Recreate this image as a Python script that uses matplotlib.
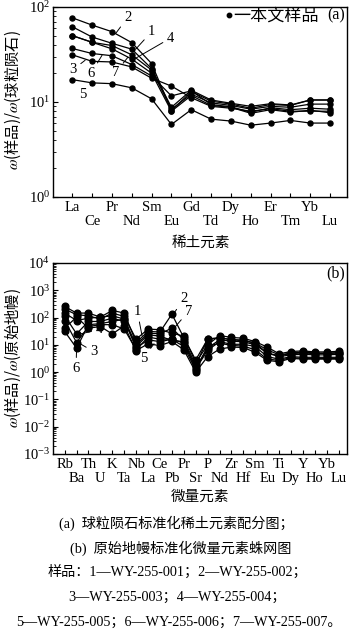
import matplotlib
matplotlib.use('Agg')
import matplotlib.pyplot as plt
from matplotlib.ticker import LogLocator, NullFormatter, FixedLocator, FixedFormatter
from matplotlib.lines import Line2D

plt.rcParams['font.family'] = ['Liberation Serif', 'Noto Sans CJK SC', 'DejaVu Sans']
plt.rcParams['mathtext.fontset'] = 'stix'

# ---------------- data ----------------
ree_elements = ['La', 'Ce', 'Pr', 'Nd', 'Sm', 'Eu', 'Gd', 'Td', 'Dy', 'Ho', 'Er', 'Tm', 'Yb', 'Lu']
ree_s1 = [62.0, 48.3, 41.5, 36.0, 22.5, 8.8, 13.3, 10.5, 9.7, 9.0, 9.6, 9.3, 10.5, 10.5]
ree_s2 = [77.0, 64.5, 55.0, 42.2, 25.4, 8.1, 12.9, 10.2, 9.5, 8.6, 9.4, 9.2, 10.5, 10.5]
ree_s3 = [31.4, 26.8, 26.4, 23.4, 17.8, 14.7, 11.1, 9.0, 8.6, 8.0, 8.5, 8.0, 8.0, 8.0]
ree_s4 = [50.0, 42.5, 39.3, 31.4, 21.7, 8.4, 12.1, 9.8, 9.2, 8.4, 9.0, 8.8, 9.5, 9.5]
ree_s5 = [17.2, 15.9, 15.6, 14.1, 10.8, 5.8, 8.3, 6.6, 6.3, 5.7, 6.0, 6.4, 6.0, 6.0]
ree_s6 = [36.6, 32.4, 30.7, 24.8, 18.8, 11.6, 13.1, 9.4, 8.9, 7.8, 8.7, 8.3, 8.6, 8.4]
ree_s7 = [50.0, 42.5, 36.3, 28.3, 20.1, 8.0, 11.7, 9.2, 8.8, 7.6, 8.3, 7.8, 8.2, 7.7]

trace_elements = ['Rb', 'Ba', 'Th', 'U', 'K', 'Ta', 'Nb', 'La', 'Ce', 'Pb', 'Pr', 'Sr',
                  'P', 'Nd', 'Zr', 'Hf', 'Sm', 'Eu', 'Ti', 'Dy', 'Y', 'Ho', 'Yb', 'Lu']
tr_s1 = [205, 127, 116, 88, 146, 110, 16.2, 37.7, 36, 26.9, 20.9, 2.2, 10, 22, 18.7, 17.5, 13.1, 8.3, 4.7, 5.7, 6.0, 5.5, 5.5, 5.8]
tr_s2 = [256, 146, 146, 104, 183, 146, 12.2, 31, 29.6, 134, 18.3, 2.8, 16.2, 18, 15.6, 15, 11.6, 6.6, 4.3, 5.0, 5.5, 5.0, 5.0, 5.2]
tr_s3 = [78, 12.2, 47, 55, 55, 38, 6.6, 19.2, 16.2, 16.2, 11.6, 1.3, 6.3, 13.1, 10.5, 10.5, 8.7, 3.7, 3.0, 3.7, 3.5, 3.5, 3.5, 3.5]
tr_s4 = [116, 25.4, 72, 72, 95, 72, 8.7, 23.4, 20.9, 14.5, 13.1, 1.5, 7.6, 15.3, 13.6, 13.0, 10.0, 5.0, 3.7, 4.3, 4.5, 4.3, 4.3, 4.5]
tr_s5 = [41, 104, 41, 47, 25, 50, 6.2, 10.9, 9.4, 13.3, 6.6, 1.0, 3.7, 7.0, 8.3, 8.0, 5.3, 2.7, 2.4, 3.2, 3.0, 3.0, 3.0, 3.0]
tr_s6 = [31, 7.6, 55, 60, 72, 88, 7.6, 15.3, 13.1, 16.0, 8.7, 1.2, 8.7, 11.6, 9.5, 9.0, 6.6, 3.0, 2.7, 3.4, 3.2, 3.2, 3.2, 3.2]
tr_s7 = [146, 78, 95, 104, 116, 88, 10, 26.9, 25.4, 41, 15.3, 1.8, 16.6, 18, 15.6, 14, 11.6, 5.0, 4.0, 4.8, 5.0, 4.8, 4.8, 5.0]

ree_series = [ree_s1, ree_s2, ree_s3, ree_s4, ree_s5, ree_s6, ree_s7]
tr_series = [tr_s1, tr_s2, tr_s3, tr_s4, tr_s5, tr_s6, tr_s7]

# ---------------- figure ----------------
W, H = 350, 634
fig = plt.figure(figsize=(W / 100, H / 100), dpi=100)

def frac_axes(left, top, right, bottom):
    return fig.add_axes([left / W, 1 - bottom / H, (right - left) / W, (bottom - top) / H])

ax1 = frac_axes(53, 7, 347, 197)
ax2 = frac_axes(53, 263, 347, 454)

TICK_FS = 10.5
serif = ['Liberation Serif', 'Noto Sans CJK SC']
cjk = ['Noto Sans CJK SC', 'DejaVu Sans']

def style_axes(ax, labels, ylim, xlim):
    ax.set_yscale('log')
    ax.set_ylim(*ylim)
    ax.set_xlim(*xlim)
    n = len(labels)
    even = list(range(0, n, 2))
    odd = list(range(1, n, 2))
    ax.xaxis.set_major_locator(FixedLocator(even))
    ax.xaxis.set_major_formatter(FixedFormatter([labels[i] for i in even]))
    ax.xaxis.set_minor_locator(FixedLocator(odd))
    ax.xaxis.set_minor_formatter(FixedFormatter([labels[i] for i in odd]))
    ax.yaxis.set_major_locator(LogLocator(base=10, numticks=20))
    ax.yaxis.set_minor_locator(LogLocator(base=10, subs=range(2, 10), numticks=100))
    ax.yaxis.set_minor_formatter(NullFormatter())
    ax.tick_params(axis='y', which='major', direction='in', length=3.5, width=0.8,
                   labelsize=TICK_FS, pad=2)
    ax.tick_params(axis='y', which='minor', direction='in', length=2, width=0.6)
    ax.tick_params(axis='x', which='major', direction='in', length=3, width=0.8,
                   labelsize=TICK_FS, pad=3)
    ax.tick_params(axis='x', which='minor', direction='in', length=3, width=0.8,
                   labelsize=TICK_FS, pad=13)
    for t in ax.get_xticklabels(which='both'):
        t.set_family(serif)
    for sp in ax.spines.values():
        sp.set_linewidth(1.0)

style_axes(ax1, ree_elements, (1, 100), (-0.97, 13.85))
style_axes(ax2, trace_elements, (1e-3, 1e4), (-0.98, 23.7))

x1 = list(range(len(ree_elements)))
for s in ree_series:
    ax1.plot(x1, s, '-', color='black', lw=0.9, marker='o', ms=3.6, mec='black', mfc='black')
x2 = list(range(len(trace_elements)))
for s in tr_series:
    ax2.plot(x2, s, '-', color='black', lw=0.9, marker='o', ms=4.8, mec='black', mfc='black')

ann_kw = dict(arrowprops=dict(arrowstyle='-', lw=0.7, color='black', shrinkA=1, shrinkB=0),
              fontsize=TICK_FS, ha='center', va='center', family=serif)

# panel (a) labels
for txt, xy, xyt in [('2', (2.2, 53), (2.8, 78)),
                     ('1', (3.2, 36), (4.0, 55)),
                     ('4', (3.15, 28.5), (4.95, 47)),
                     ('7', (2.8, 29.5), (2.2, 20.5)),
                     ('3', (0.65, 27.5), (0.05, 22)),
                     ('6', (1.5, 31.0), (0.95, 20)),
                     ('5', (1.05, 16.0), (0.55, 12.0))]:
    ax1.annotate(txt, xy=xy, xytext=xyt, **ann_kw)

# panel (b) labels
for txt, xy, xyt in [('2', (9.2, 150), (10.0, 480)),
                     ('7', (9.3, 47), (10.4, 170)),
                     ('1', (6.5, 21), (6.1, 170)),
                     ('5', (7.5, 11), (6.6, 3.2)),
                     ('4', (1.1, 24), (2.9, 36)),
                     ('3', (1.15, 12), (2.45, 5.6)),
                     ('6', (1.0, 7.0), (0.95, 1.4))]:
    ax2.annotate(txt, xy=xy, xytext=xyt, **ann_kw)

# legend of panel (a)
h = Line2D([], [], color='black', ls='none', marker='o', ms=3.2)
leg = ax1.legend([h], ['一本文样品'], loc='center left',
                 bbox_to_anchor=((226 - 53) / 294, (197 - 15.5) / 190),
                 frameon=False, numpoints=1, handlelength=0.4, handletextpad=0.05,
                 borderpad=0, borderaxespad=0, prop={'family': cjk, 'size': 12.3})

ax1.text((336 - 53) / 294, (197 - 15.5) / 190, '(a)', transform=ax1.transAxes,
         ha='center', va='center', fontsize=11.5, family=serif)
ax2.text(0.96, 0.948, '(b)', transform=ax2.transAxes, ha='center', va='center',
         fontsize=11.5, family=serif)

# axis titles (non-math text rendered with the CJK font, omega from STIX italic)
fig.text(12.5 / W, 1 - 100 / H, r'$\omega$(样品)/$\omega$(球粒陨石)', rotation=90,
         ha='center', va='center', fontsize=11, family=['Noto Sans CJK SC'])
fig.text(12.5 / W, 1 - 358 / H, r'$\omega$(样品)/$\omega$(原始地幔)', rotation=90,
         ha='center', va='center', fontsize=11, family=['Noto Sans CJK SC'])
fig.text(201 / W, 1 - 243 / H, '稀土元素', ha='center', va='center', fontsize=10.5,
         family=cjk)
fig.text(200 / W, 1 - 497 / H, '微量元素', ha='center', va='center', fontsize=10.5,
         family=cjk)

# caption
cap_fs = 10.2
fig.text(176 / W, 1 - 523 / H, '(a)  球粒陨石标准化稀土元素配分图；', ha='center', va='center',
         fontsize=cap_fs, family=serif)
fig.text(181 / W, 1 - 548 / H, '(b)  原始地幔标准化微量元素蛛网图', ha='center', va='center',
         fontsize=cap_fs, family=serif)
fig.text(177 / W, 1 - 572 / H, '样品：1—WY-255-001；2—WY-255-002；', ha='center', va='center',
         fontsize=cap_fs, family=serif)
fig.text(177 / W, 1 - 597 / H, '3—WY-255-003；4—WY-255-004；', ha='center', va='center',
         fontsize=cap_fs, family=serif)
fig.text(179 / W, 1 - 622 / H, '5—WY-255-005；6—WY-255-006；7—WY-255-007。', ha='center',
         va='center', fontsize=cap_fs, family=serif)

fig.savefig('out.png', dpi=100)
